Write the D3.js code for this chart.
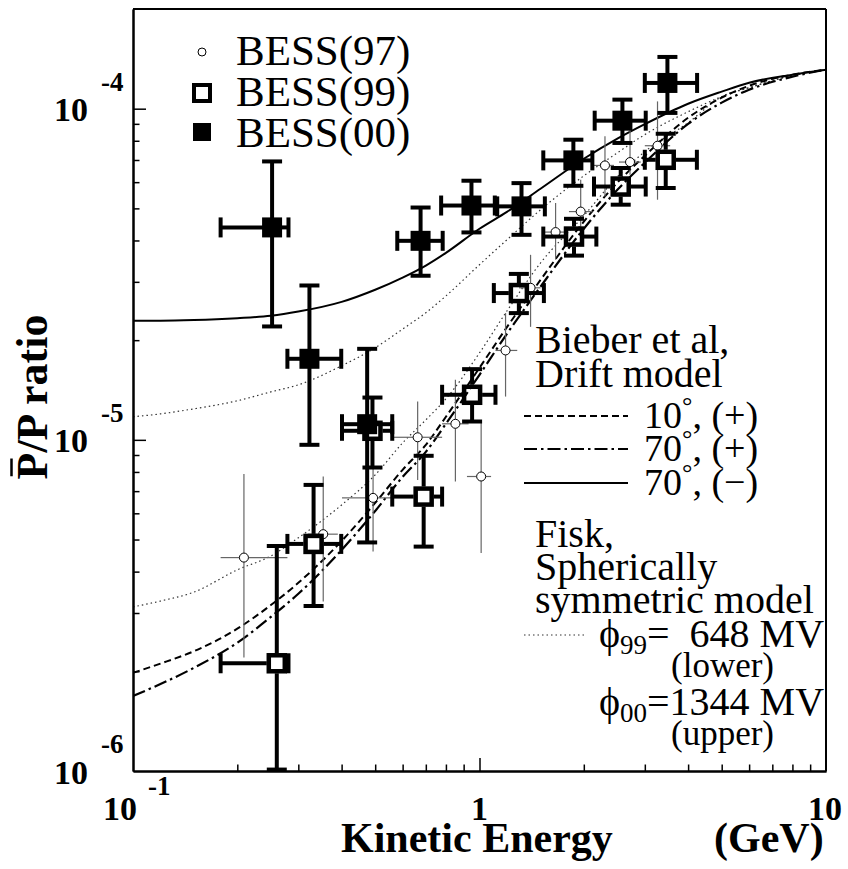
<!DOCTYPE html>
<html><head><meta charset="utf-8">
<script src="https://cdn.jsdelivr.net/npm/d3@7"></script>
<style>
body{margin:0;background:#fff}
svg{display:block}
text{font-family:"Liberation Serif","Times New Roman",serif;fill:#000}
</style>
</head><body>
<svg id="chart" width="848" height="869" font-family="Liberation Serif, Times New Roman, serif"></svg>
<script>
// ---- BESS antiproton / proton ratio data ----
// BESS(97)
const bess97E    = [0.209, 0.354, 0.493, 0.663, 0.852, 1.011, 1.189, 1.404, 1.658, 1.959, 2.302, 2.719, 3.264];
const bess97R    = [4.41e-6, 5.19e-6, 6.68e-6, 1.018e-5, 1.118e-5, 7.75e-6, 1.862e-5, 2.878e-5, 4.24e-5, 4.89e-5, 6.74e-5, 6.90e-5, 7.73e-5];
const bess97Lo   = [2.20e-6, 3.25e-6, 4.60e-6, 7.57e-6, 7.48e-6, 4.55e-6, 1.351e-5, 2.194e-5, 3.50e-5, 3.88e-5, 5.43e-5, 6.32e-5, 5.31e-5];
const bess97Hi   = [7.89e-6, 7.75e-6, 1.0e-5, 1.305e-5, 1.518e-5, 1.141e-5, 2.414e-5, 3.62e-5, 5.19e-5, 6.10e-5, 8.25e-5, 8.64e-5, 1.052e-4];
const bess97Emin = [0.179, 0.32, 0.401, 0.564, 0.78, 0.92, 1.112, 1.30, 1.534, 1.812, 2.117, 2.527, 3.0];
const bess97Emax = [0.279, 0.39, 0.56, 0.78, 0.93, 1.08, 1.285, 1.50, 1.793, 2.117, 2.444, 2.92, 3.55];

// BESS(99)
const bess99E    = [0.260, 0.332, 0.491, 0.690, 0.952, 1.299, 1.874, 2.556, 3.447];
const bess99R    = [2.115e-6, 4.85e-6, 1.065e-5, 6.74e-6, 1.368e-5, 2.775e-5, 4.11e-5, 5.82e-5, 7.01e-5];
const bess99Lo   = [1.01e-6, 3.15e-6, 8.25e-6, 4.76e-6, 1.136e-5, 2.414e-5, 3.60e-5, 5.13e-5, 5.76e-5];
const bess99Hi   = [4.78e-6, 7.31e-6, 1.342e-5, 8.95e-6, 1.635e-5, 3.17e-5, 4.65e-5, 6.62e-5, 8.40e-5];
const bess99Emin = [0.179, 0.279, 0.401, 0.560, 0.780, 1.100, 1.528, 2.14, 3.0];
const bess99Emax = [0.281, 0.399, 0.560, 0.780, 1.112, 1.534, 2.174, 3.018, 4.24];

// BESS(00)
const bess00E    = [0.252, 0.323, 0.474, 0.676, 0.948, 1.322, 1.866, 2.585, 3.486];
const bess00R    = [4.38e-5, 1.757e-5, 1.115e-5, 3.99e-5, 5.10e-5, 5.07e-5, 6.98e-5, 9.20e-5, 1.196e-4];
const bess00Lo   = [2.20e-5, 9.66e-6, 4.90e-6, 3.13e-5, 4.23e-5, 4.16e-5, 5.85e-5, 7.88e-5, 9.71e-5];
const bess00Hi   = [6.93e-5, 2.925e-5, 1.883e-5, 5.03e-5, 6.06e-5, 5.96e-5, 8.06e-5, 1.065e-4, 1.433e-4];
const bess00Emin = [0.179, 0.279, 0.401, 0.579, 0.775, 1.125, 1.528, 2.15, 3.0];
const bess00Emax = [0.281, 0.399, 0.560, 0.783, 1.107, 1.544, 2.117, 3.018, 4.246];

// ---- model curves (kinetic energy grid, GeV) ----
const modelE      = [0.1, 0.12, 0.15, 0.2, 0.25, 0.3, 0.4, 0.5, 0.6, 0.7, 0.8, 1.0, 1.2, 1.5, 2, 2.5, 3, 4, 5, 6, 8, 10];
const drift10Plus = [1.98e-6, 2.11e-6, 2.30e-6, 2.69e-6, 3.17e-6, 3.70e-6, 4.95e-6, 6.45e-6, 8.12e-6, 9.66e-6, 1.174e-5, 1.65e-5, 2.19e-5, 3.04e-5, 4.56e-5, 5.98e-5, 7.21e-5, 9.39e-5, 1.08e-4, 1.173e-4, 1.267e-4, 1.312e-4];
const drift70Plus = [1.685e-6, 1.83e-6, 2.05e-6, 2.44e-6, 2.92e-6, 3.43e-6, 4.65e-6, 6.10e-6, 7.73e-6, 9.20e-6, 1.118e-5, 1.572e-5, 2.09e-5, 2.90e-5, 4.34e-5, 5.69e-5, 6.87e-5, 9.0e-5, 1.043e-4, 1.141e-4, 1.249e-4, 1.312e-4];
const drift70Minus= [2.29e-5, 2.29e-5, 2.30e-5, 2.33e-5, 2.37e-5, 2.44e-5, 2.61e-5, 2.84e-5, 3.09e-5, 3.36e-5, 3.67e-5, 4.34e-5, 4.88e-5, 5.73e-5, 7.06e-5, 8.12e-5, 8.98e-5, 1.035e-4, 1.126e-4, 1.198e-4, 1.267e-4, 1.312e-4];
const fisk648     = [3.13e-6, 3.26e-6, 3.47e-6, 4.05e-6, 4.46e-6, 5.06e-6, 6.36e-6, 7.84e-6, 9.79e-6, 1.149e-5, 1.33e-5, 1.83e-5, 2.45e-5, 3.42e-5, 4.75e-5, 6.23e-5, 7.42e-5, 9.07e-5, 1.087e-4, 1.157e-4, 1.26e-4, 1.312e-4];
const fisk1344    = [1.174e-5, 1.198e-5, 1.241e-5, 1.312e-5, 1.396e-5, 1.466e-5, 1.673e-5, 1.897e-5, 2.16e-5, 2.42e-5, 2.72e-5, 3.38e-5, 4.02e-5, 4.95e-5, 6.27e-5, 7.36e-5, 8.35e-5, 9.79e-5, 1.087e-4, 1.157e-4, 1.26e-4, 1.312e-4];

// ---- axis ticks and labels ----
const xTickValues = [0.1, 1, 10];
const xTickBase   = ["10", "1", "10"];
const xTickExp    = ["-1", "", ""];
const yTickValues = [1e-4, 1e-5, 1e-6];
const yTickBase   = ["10", "10", "10"];
const yTickExp    = ["-4", "-5", "-6"];

const svg = d3.select("#chart");
const L = 133, R = 826, T = 9, B = 771;
const x = d3.scaleLog().domain([0.1, 10]).range([L, R]);
const y = d3.scaleLog().domain([1e-6, 2e-4]).range([B, T]);

svg.append("defs").append("clipPath").attr("id", "plotclip")
  .append("rect").attr("x", L).attr("y", T).attr("width", R - L).attr("height", B - T);

const plot = svg.append("g").attr("clip-path", "url(#plotclip)");

// ---- curves ----
const line = d3.line().x(d => x(d[0])).y(d => y(d[1])).curve(d3.curveMonotoneX);
const styles = {
  dashed:  {dash: "7,4",          w: 2.0, c: "#000"},
  dashdot: {dash: "13,4,2.5,4",   w: 2.2, c: "#000"},
  solid:   {dash: null,           w: 2.0, c: "#000"},
  dotted:  {dash: "1.5,3",        w: 1.2, c: "#333"}
};
const curves = [
  [fisk648, "dotted"], [fisk1344, "dotted"],
  [drift10Plus, "dashed"], [drift70Plus, "dashdot"], [drift70Minus, "solid"]
];
curves.forEach(([vals, st]) => {
  const s = styles[st];
  plot.append("path")
    .attr("d", line(modelE.map((e, i) => [e, vals[i]])))
    .attr("fill", "none").attr("stroke", s.c).attr("stroke-width", s.w)
    .attr("stroke-dasharray", s.dash);
});

// ---- BESS(97): small open circles with thin error bars ----
const g97 = plot.append("g");
bess97E.forEach((e, i) => {
  const cx = x(e), cy = y(bess97R[i]), r = 4.5;
  const segs = [
    [x(bess97Emin[i]), cy, cx - r, cy], [cx + r, cy, x(bess97Emax[i]), cy],
    [cx, y(bess97Hi[i]), cx, cy - r], [cx, cy + r, cx, y(bess97Lo[i])]
  ];
  segs.forEach(s => g97.append("line").attr("x1", s[0]).attr("y1", s[1]).attr("x2", s[2]).attr("y2", s[3])
    .attr("stroke", "#666").attr("stroke-width", 1.2));
  g97.append("circle").attr("cx", cx).attr("cy", cy).attr("r", r)
    .attr("fill", "#fff").attr("stroke", "#000").attr("stroke-width", 1);
});

// thick error bars with end caps, gaps around an optional marker box
function thickBars(g, cx, cy, x0, x1, yHi, yLo, half) {
  const cap = 10, w = 4;
  const segs = [];
  if (cx - half > x0) segs.push([x0, cy, cx - half, cy]);
  if (x1 > cx + half) segs.push([cx + half, cy, x1, cy]);
  if (cy - half > yHi) segs.push([cx, yHi, cx, cy - half]);
  if (yLo > cy + half) segs.push([cx, cy + half, cx, yLo]);
  segs.forEach(s => g.append("line").attr("x1", s[0]).attr("y1", s[1]).attr("x2", s[2]).attr("y2", s[3])
    .attr("stroke", "#000").attr("stroke-width", w));
  // caps
  if (cx - half > x0 + 1) g.append("line").attr("x1", x0).attr("x2", x0).attr("y1", cy - cap).attr("y2", cy + cap).attr("stroke", "#000").attr("stroke-width", w);
  if (x1 > cx + half + 1) g.append("line").attr("x1", x1).attr("x2", x1).attr("y1", cy - cap).attr("y2", cy + cap).attr("stroke", "#000").attr("stroke-width", w);
  g.append("line").attr("x1", cx - cap).attr("x2", cx + cap).attr("y1", yHi).attr("y2", yHi).attr("stroke", "#000").attr("stroke-width", w);
  g.append("line").attr("x1", cx - cap).attr("x2", cx + cap).attr("y1", yLo).attr("y2", yLo).attr("stroke", "#000").attr("stroke-width", w);
}

// ---- BESS(99): open squares ----
const g99 = plot.append("g");
bess99E.forEach((e, i) => {
  const cx = x(e), cy = y(bess99R[i]), half = 10;
  thickBars(g99, cx, cy, x(bess99Emin[i]), x(bess99Emax[i]), y(bess99Hi[i]), y(bess99Lo[i]), half);
  g99.append("rect").attr("x", cx - half + 2).attr("y", cy - half + 2)
    .attr("width", 2 * half - 4).attr("height", 2 * half - 4)
    .attr("fill", "none").attr("stroke", "#000").attr("stroke-width", 4.5);
});

// ---- BESS(00): filled squares ----
const g00 = plot.append("g");
bess00E.forEach((e, i) => {
  const cx = x(e), cy = y(bess00R[i]), half = 10;
  thickBars(g00, cx, cy, x(bess00Emin[i]), x(bess00Emax[i]), y(bess00Hi[i]), y(bess00Lo[i]), 0);
  g00.append("rect").attr("x", cx - half).attr("y", cy - half)
    .attr("width", 2 * half).attr("height", 2 * half).attr("fill", "#000");
});

// ---- axes (ticks point inward) ----
const xMinor = [], yMinor = [];
[0.1, 1].forEach(d => { for (let m = 2; m <= 9; m++) xMinor.push(m * d); });
[1e-6, 1e-5].forEach(d => { for (let m = 2; m <= 9; m++) yMinor.push(m * d); });

function styleAxis(g) {
  g.selectAll("path.domain").attr("stroke", "#000").attr("stroke-width", 2);
  g.selectAll(".tick line").attr("stroke", "#000").attr("stroke-width", 1.5);
  g.selectAll(".tick text").remove();
}
svg.append("g").attr("transform", `translate(0,${B})`)
  .call(d3.axisBottom(x).tickValues(xMinor).tickSizeInner(-6.5).tickSizeOuter(0).tickFormat(""))
  .call(styleAxis);
svg.append("g").attr("transform", `translate(0,${B})`)
  .call(d3.axisBottom(x).tickValues([1]).tickSizeInner(-13).tickSizeOuter(0).tickFormat(""))
  .call(styleAxis);
svg.append("g").attr("transform", `translate(${L},0)`)
  .call(d3.axisLeft(y).tickValues(yMinor).tickSizeInner(-6.5).tickSizeOuter(0).tickFormat(""))
  .call(styleAxis);
svg.append("g").attr("transform", `translate(${L},0)`)
  .call(d3.axisLeft(y).tickValues([1e-4, 1e-5]).tickSizeInner(-13).tickSizeOuter(0).tickFormat(""))
  .call(styleAxis);
// top and right frame
svg.append("line").attr("x1", L).attr("x2", R).attr("y1", T).attr("y2", T).attr("stroke", "#000").attr("stroke-width", 2);
svg.append("line").attr("x1", R).attr("x2", R).attr("y1", T).attr("y2", B).attr("stroke", "#000").attr("stroke-width", 2);

// ---- tick labels ----
xTickValues.forEach((v, i) => {
  const px = x(v);
  if (xTickExp[i]) {
    svg.append("text").attr("x", px - 13).attr("y", 820).attr("text-anchor", "middle")
      .attr("font-weight", "bold").attr("font-size", 34).text(xTickBase[i]);
    svg.append("text").attr("x", px + 15).attr("y", 795)
      .attr("font-weight", "bold").attr("font-size", 27).text(xTickExp[i]);
  } else {
    svg.append("text").attr("x", i === xTickValues.length - 1 ? px - 1 : px).attr("y", 820).attr("text-anchor", "middle")
      .attr("font-weight", "bold").attr("font-size", 34).text(xTickBase[i]);
  }
});
yTickValues.forEach((v, i) => {
  const py = y(v);
  svg.append("text").attr("x", 88).attr("y", py + 12.5).attr("text-anchor", "end")
    .attr("font-weight", "bold").attr("font-size", 34).text(yTickBase[i]);
  svg.append("text").attr("x", 101).attr("y", py - 18)
    .attr("font-weight", "bold").attr("font-size", 27).text(yTickExp[i]);
});

// ---- axis titles ----
svg.append("text").attr("x", 341).attr("y", 852).attr("font-weight", "bold").attr("font-size", 42).text("Kinetic Energy");
svg.append("text").attr("x", 714).attr("y", 852).attr("font-weight", "bold").attr("font-size", 42).text("(GeV)");
const yt = svg.append("g").attr("transform", "translate(46.5,397) rotate(-90)");
const ytText = yt.append("text").attr("text-anchor", "middle").attr("font-weight", "bold")
  .attr("font-size", 44).text("P/P ratio");
const ext = ytText.node().getExtentOfChar(0);
yt.append("line").attr("x1", ext.x + ext.width * 0.12).attr("x2", ext.x + ext.width * 0.78)
  .attr("y1", -35).attr("y2", -35).attr("stroke", "#000").attr("stroke-width", 2.5);

// ---- legend: data sets ----
const leg = svg.append("g");
leg.append("circle").attr("cx", 202).attr("cy", 52).attr("r", 4).attr("fill", "#fff").attr("stroke", "#000").attr("stroke-width", 1);
leg.append("rect").attr("x", 194).attr("y", 85).attr("width", 16).attr("height", 16).attr("fill", "none").attr("stroke", "#000").attr("stroke-width", 4);
leg.append("rect").attr("x", 193).attr("y", 123).attr("width", 18).attr("height", 18).attr("fill", "#000");
["BESS(97)", "BESS(99)", "BESS(00)"].forEach((t, i) => {
  leg.append("text").attr("x", 236).attr("y", 65 + i * 41).attr("font-size", 43).text(t);
});

// ---- legend: models ----
const fs = 40;
leg.append("text").attr("x", 535).attr("y", 353).attr("font-size", fs).text("Bieber et al,");
leg.append("text").attr("x", 535).attr("y", 387).attr("font-size", fs).text("Drift model");
const modelRows = [
  {st: "dashed",  y: 416, deg: "10"},
  {st: "dashdot", y: 449, deg: "70"},
  {st: "solid",   y: 483, deg: "70"}
];
const signs = ["(+)", "(+)", "(\u2212)"];
modelRows.forEach((r, i) => {
  const s = styles[r.st];
  leg.append("line").attr("x1", 524).attr("x2", 628).attr("y1", r.y).attr("y2", r.y)
    .attr("stroke", s.c).attr("stroke-width", s.w).attr("stroke-dasharray", s.dash);
  const t = leg.append("text").attr("x", 644).attr("y", r.y + 12).attr("font-size", 38);
  t.append("tspan").text(r.deg);
  t.append("tspan").attr("dy", -14).attr("font-size", 26).text("\u00b0");
  t.append("tspan").attr("dy", 14).text(", " + signs[i]);
});
leg.append("text").attr("x", 535).attr("y", 547).attr("font-size", fs).text("Fisk,");
leg.append("text").attr("x", 535).attr("y", 580).attr("font-size", fs).text("Spherically");
leg.append("text").attr("x", 535).attr("y", 613).attr("font-size", fs).text("symmetric model");
leg.append("line").attr("x1", 524).attr("x2", 584).attr("y1", 635).attr("y2", 635)
  .attr("stroke", styles.dotted.c).attr("stroke-width", 1.2).attr("stroke-dasharray", styles.dotted.dash);

function phiLabel(yb, sub, rest) {
  const t = leg.append("text").attr("x", 599).attr("y", yb).attr("font-size", fs);
  t.append("tspan").text("\u03d5");
  t.append("tspan").attr("dy", 7).attr("font-size", 27).text(sub);
  t.append("tspan").attr("dy", -7).text(rest);
}
phiLabel(647, "99", "=\u00a0 648 MV");
leg.append("text").attr("x", 671).attr("y", 677).attr("font-size", 35).text("(lower)");
phiLabel(715, "00", "=1344 MV");
leg.append("text").attr("x", 671).attr("y", 745).attr("font-size", 35).text("(upper)");
</script>
</body></html>
